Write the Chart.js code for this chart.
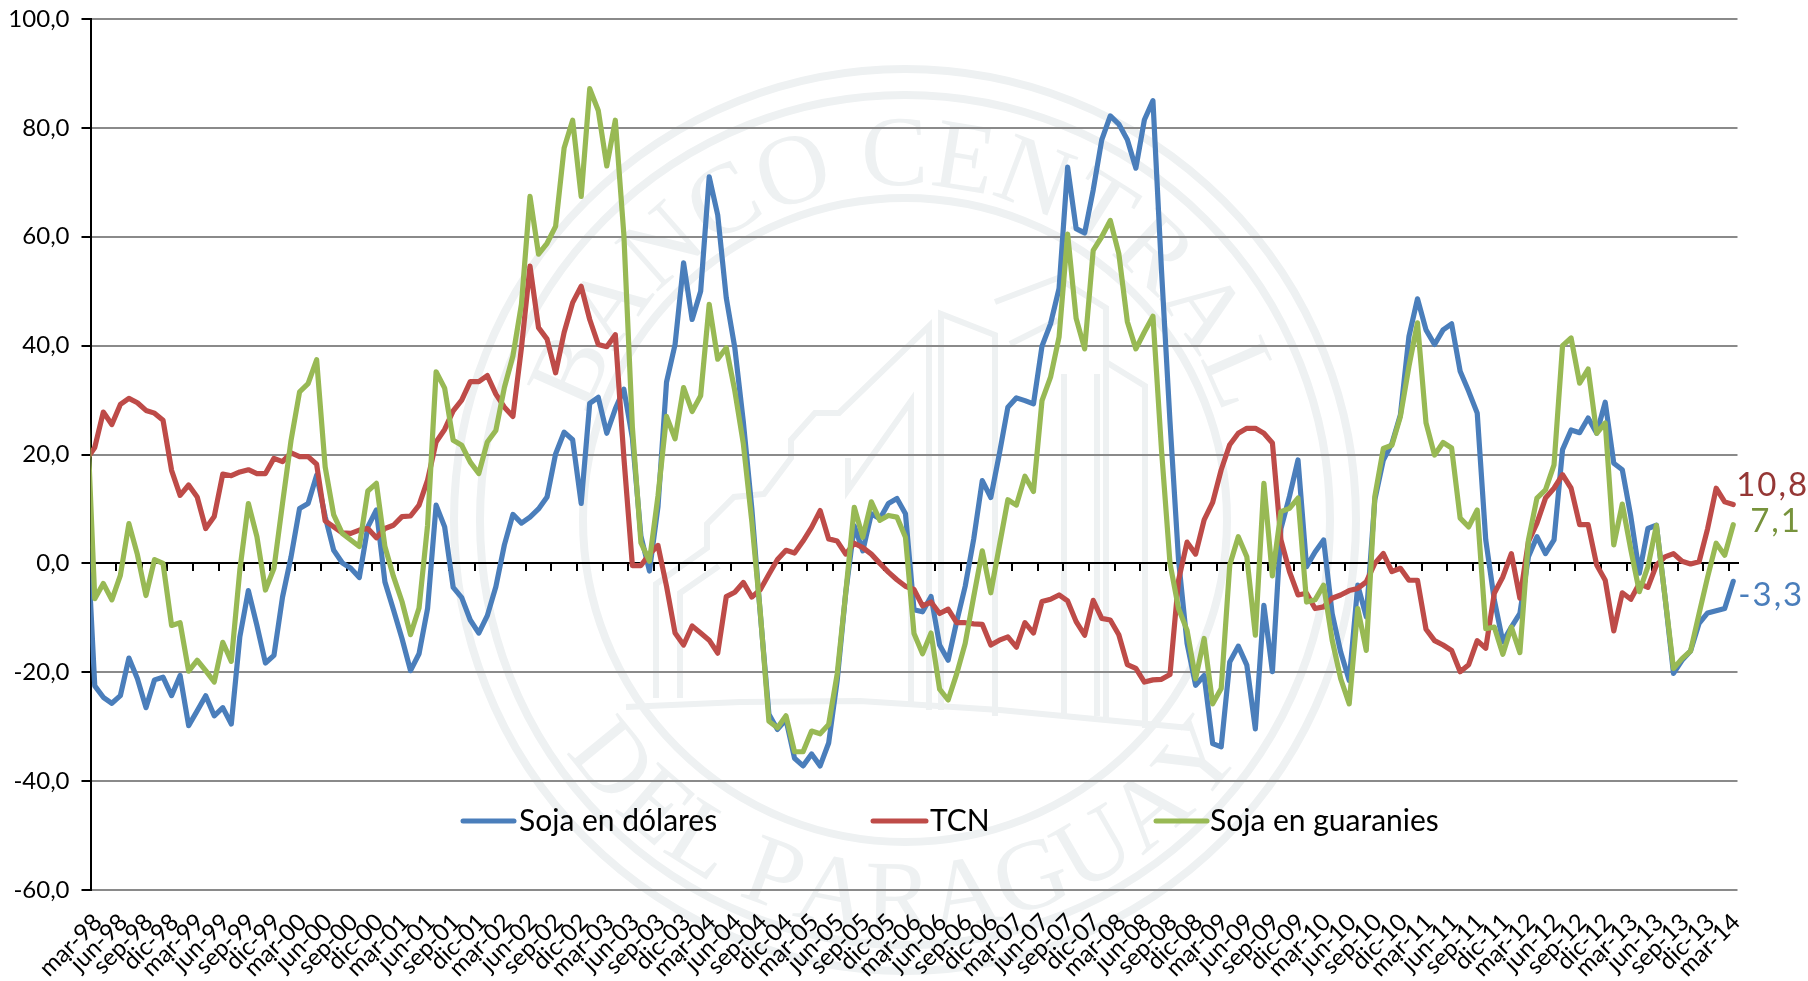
<!DOCTYPE html>
<html>
<head>
<meta charset="utf-8">
<title>Soja</title>
<script src="https://cdn.jsdelivr.net/npm/chart.js@4"></script>
<style>
  html, body { margin: 0; padding: 0; background: #fff; }
  canvas { display: block; }
</style>
</head>
<body>
<canvas id="chart" width="1808" height="981"></canvas>
<script>
// Series names and end labels
const seriesNames = ['Soja en dólares', 'TCN', 'Soja en guaranies'];
const endLabels = ['-3,3', '10,8', '7,1'];
const yTicks = [-60, -40, -20, 0, 20, 40, 60, 80, 100];
const monthNames = ['ene', 'feb', 'mar', 'abr', 'may', 'jun', 'jul', 'ago', 'sep', 'oct', 'nov', 'dic'];

// Monthly values, feb-98 to mar-14. The feb-98 point sits left of the axis and only its segment shows.
const sojaDolares = [8.6,
  -22.5,-24.6,-25.7,-24.3,-17.4,-21.2,-26.5,-21.4,-20.9,-24.3,
  -20.6,-29.8,-27.1,-24.3,-28,-26.5,-29.5,-13.5,-5,-11.4,
  -18.3,-16.9,-6.2,1.2,10.1,11,16.2,8.6,2.4,0.1,
  -0.9,-2.6,6.7,9.8,-3.4,-8.5,-13.8,-19.7,-16.6,-8.3,
  10.7,6.7,-4.4,-6.3,-10.4,-12.8,-9.6,-4.3,3.4,9,
  7.4,8.5,10,12.2,20.1,24.1,22.7,11,29.4,30.5,
  23.9,28.4,32,23,5,-1.4,10.4,33.3,40.2,55.2,
  44.8,50,71,64,48.8,39.6,26,10,-9.5,-27.7,
  -30.5,-28.7,-35.8,-37.2,-35,-37.2,-33,-21.5,-5.4,6.9,
  2.3,9.1,8.2,11,11.9,9.1,-8.5,-8.9,-6.1,-15,
  -17.8,-10.7,-4.2,4.5,15.2,12.1,20.1,28.7,30.4,29.9,
  29.3,39.9,44,50.5,72.8,61.5,60.7,68.6,77.8,82.2,
  80.7,77.8,72.6,81.5,85,53.9,26,0.6,-14.7,-22.4,
  -20.6,-33.1,-33.7,-18.1,-15.2,-18.7,-30.4,-7.7,-19.9,6.4,
  12.3,19,-0.6,2.1,4.3,-9.2,-16.3,-21.5,-4,-9.8,
  11.7,19,22,27.3,41.7,48.6,42.9,40.2,42.9,44,
  35.3,31.6,27.6,4.3,-6.7,-14.4,-11.7,-9.2,1.2,4.9,
  1.8,4.3,20.9,24.5,24,26.7,23.9,29.6,18.4,17.2,
  8.6,-1.8,6.4,7,-6.1,-20.2,-17.8,-16.1,-11,-9.1,
  -8.7,-8.3,-3.3
];
const tcn = [19,
  21.3,27.8,25.5,29.2,30.3,29.5,28.1,27.6,26.3,17.1,
  12.5,14.4,12.2,6.4,8.6,16.4,16.1,16.8,17.2,16.5,
  16.5,19.3,18.7,20.3,19.6,19.6,18.2,7.8,6.7,5.6,
  5.5,6.1,6.4,4.7,6.4,7,8.6,8.7,10.7,15.3,
  22.3,24.6,28,30,33.4,33.4,34.5,31.1,28.7,27,
  39.6,54.6,43.3,41.2,35,42.4,47.9,50.9,44.8,40.2,
  39.8,42,19.5,-0.4,-0.4,1.7,3.3,-4.2,-12.8,-15,
  -11.5,-12.8,-14.1,-16.5,-6.1,-5.3,-3.5,-6.2,-4.8,-2,
  0.7,2.4,1.9,4.1,6.6,9.7,4.5,4.1,1.7,3.7,
  2.9,1.7,0,-1.6,-3,-4.2,-4.8,-7.8,-7.1,-9.2,
  -8.4,-10.9,-10.9,-11.1,-11.2,-15,-14.1,-13.5,-15.4,-10.9,
  -12.8,-7,-6.6,-5.8,-6.9,-10.7,-13.2,-6.8,-10.1,-10.4,
  -13.1,-18.6,-19.3,-21.8,-21.4,-21.3,-20.4,-3.1,3.9,1.7,
  8,11.2,17.2,21.8,23.9,24.8,24.8,23.9,22.1,4.3,
  -1.5,-5.8,-5.5,-8.3,-8,-6.4,-5.8,-5,-4.6,-3.4,
  0,1.8,-1.5,-0.9,-3.1,-3.1,-12.1,-14.2,-15,-16,
  -19.9,-18.6,-14.2,-15.6,-5.5,-2.5,1.8,-6.4,4,7.4,
  12,13.8,16.3,13.8,7.1,7.1,-0.3,-3.1,-12.4,-5.4,
  -6.6,-3.7,-4.4,-0.3,1.2,1.8,0.4,-0.1,0.3,6.4,
  13.8,11.3,10.8
];
const sojaGuaranies = [31,
  -6.5,-3.7,-6.7,-2.2,7.3,1.6,-5.9,0.7,0,-11.4,
  -10.9,-19.8,-17.8,-19.7,-21.8,-14.5,-18,-1.2,11,4.9,
  -4.9,-0.9,11,22.6,31.5,33,37.4,17.7,8.9,5.5,
  4.3,3.1,13.3,14.7,3.1,-2.4,-7,-13.1,-8.2,7,
  35.2,32.2,22.6,21.7,18.6,16.5,22.3,24.4,32.3,38.1,
  47.6,67.4,56.8,58.8,61.9,76.3,81.4,67.4,87.2,83.2,
  73,81.4,60.4,25,3.8,0.4,12.4,27,22.9,32.3,
  27.9,30.8,47.6,37.5,39.6,31.7,22,7.6,-9.2,-29,
  -30.2,-28,-34.6,-34.6,-30.8,-31.3,-29.6,-20.3,-5.4,10.3,
  4.8,11.3,7.9,8.8,8.5,4.8,-12.9,-16.6,-12.8,-23.1,
  -25.1,-20.3,-14.7,-6.1,2.3,-5.4,3.2,11.7,10.7,16,
  13.2,29.9,34.2,41.6,60.5,45,39.4,57.5,60,63,
  56.9,44.4,39.4,42.5,45.4,20.9,0,-8.3,-12.3,-21.2,
  -13.8,-25.8,-23,-0.3,4.9,1.2,-13.2,14.7,-2.3,9.5,
  10.1,12,-7.1,-6.7,-4,-14.1,-21.2,-25.8,-8.3,-16,
  12.3,21.1,21.7,27,36.2,44.2,25.8,19.9,22.2,21.2,
  8.3,6.7,9.8,-12,-11.7,-16.7,-11.7,-16.4,4.3,12,
  13.5,18.1,40,41.4,33.1,35.7,23.9,25.8,3.4,10.9,
  2.5,-5.2,-0.6,7,-6.1,-19.3,-17.5,-16.1,-9.2,-2.5,
  3.7,1.5,7.1
];

// Build the month labels
const labels = [];
for (let i = 0; i < sojaDolares.length; i++) {
  const m = (1 + i) % 12;
  const y = (98 + Math.floor((1 + i) / 12)) % 100;
  labels.push(monthNames[m] + '-' + String(y).padStart(2, '0'));
}

const FONT = 'Lato, sans-serif';
const lineColors = ['#4A7EBB', '#BE4B48', '#98B954'];
const labelColors = ['#4A7EBB', '#953735', '#77933C'];

// Seal in the background
const seal = {
  id: 'seal',
  beforeDraw(chart) {
    const ctx = chart.ctx;
    const cx = 905, cy = 520;
    ctx.save();
    ctx.strokeStyle = '#EEF1F2';
    ctx.fillStyle = '#EEF1F2';
    ctx.lineWidth = 8;
    [451, 425, 322].forEach(r => {
      ctx.beginPath();
      ctx.arc(cx, cy, r, 0, Math.PI * 2);
      ctx.stroke();
    });

    // Letters along a circle, each one takes an arc in proportion to its width
    const arcText = (text, r, mid, spread, inward) => {
      ctx.font = '100px "Liberation Serif", serif';
      ctx.textAlign = 'center';
      ctx.textBaseline = 'alphabetic';
      const widths = Array.from(text).map(ch => ctx.measureText(ch).width);
      const total = widths.reduce((a, b) => a + b, 0);
      let used = 0;
      widths.forEach((w, i) => {
        const part = (used + w / 2) / total - 0.5;
        const a = mid + spread * part * (inward ? -1 : 1);
        used += w;
        ctx.save();
        ctx.translate(cx + Math.sin(a) * r, cy - Math.cos(a) * r);
        ctx.rotate(inward ? a + Math.PI : a);
        ctx.fillText(text[i], 0, 0);
        ctx.restore();
      });
    };
    arcText('BANCO CENTRAL', 335, 0, 2.5, false);
    arcText('DEL PARAGUAY', 410, Math.PI, 1.95, true);

    // Rough outline of the building
    ctx.lineWidth = 6;
    const shapes = [
      [[656, 698], [656, 584], [707, 548], [707, 524], [734, 497], [764, 494], [791, 458], [791, 440], [815, 413], [839, 413], [929, 326], [929, 710]],
      [[680, 698], [680, 593], [719, 566]],
      [[848, 458], [848, 490], [911, 401], [911, 704]],
      [[941, 710], [941, 314], [995, 335], [995, 716]],
      [[995, 302], [1058, 278], [1106, 308], [1106, 722]],
      [[1010, 344], [1058, 320]],
      [[1064, 374], [1064, 716]],
      [[1097, 374], [1097, 716]],
      [[1106, 362], [1145, 386], [1145, 728]],
      [[626, 707], [740, 702], [860, 701], [1000, 710], [1190, 728]]
    ];
    shapes.forEach(points => {
      ctx.beginPath();
      points.forEach((p, i) => i ? ctx.lineTo(p[0], p[1]) : ctx.moveTo(p[0], p[1]));
      ctx.stroke();
    });
    ctx.restore();
  }
};

// Legend inside the plot and the last value of each line
const notes = {
  id: 'notes',
  afterDraw(chart) {
    const ctx = chart.ctx;
    const xScale = chart.scales.x;
    const yScale = chart.scales.y;
    ctx.save();

    const legendKeys = [[463, 514, 519], [873, 926, 930], [1156, 1207, 1210]];
    ctx.font = '30px ' + FONT;
    ctx.textAlign = 'left';
    ctx.textBaseline = 'middle';
    ctx.lineCap = 'round';
    ctx.lineWidth = 5;
    seriesNames.forEach((name, i) => {
      ctx.strokeStyle = lineColors[i];
      ctx.beginPath();
      ctx.moveTo(legendKeys[i][0], 821);
      ctx.lineTo(legendKeys[i][1], 821);
      ctx.stroke();
      ctx.fillStyle = '#000';
      ctx.fillText(name, legendKeys[i][2], 821);
    });

    const lastIndex = labels.length - 1;
    const series = [sojaDolares, tcn, sojaGuaranies];
    const labelShift = [[5, 14], [3, -19], [17, -3]];
    ctx.font = '33px ' + FONT;
    ctx.letterSpacing = '2px';
    endLabels.forEach((text, i) => {
      ctx.fillStyle = labelColors[i];
      ctx.fillText(text, xScale.getPixelForValue(lastIndex) + labelShift[i][0],
        yScale.getPixelForValue(series[i][lastIndex]) + labelShift[i][1]);
    });
    ctx.restore();
  }
};

new Chart(document.getElementById('chart'), {
  type: 'line',
  data: {
    labels: labels,
    datasets: [
      { label: seriesNames[0], data: sojaDolares, borderColor: lineColors[0], order: 3 },
      { label: seriesNames[1], data: tcn, borderColor: lineColors[1], order: 2 },
      { label: seriesNames[2], data: sojaGuaranies, borderColor: lineColors[2], order: 1 }
    ]
  },
  options: {
    responsive: false,
    animation: false,
    layout: { padding: { top: 19, right: 70.5, left: 0, bottom: 0 } },
    elements: {
      point: { radius: 0 },
      line: { borderWidth: 5.2, tension: 0, borderJoinStyle: 'round', borderCapStyle: 'round' }
    },
    plugins: { legend: { display: false }, tooltip: { enabled: false } },
    scales: {
      x: {
        type: 'category',
        min: 'mar-98',
        offset: true,
        border: { display: false },
        grid: { display: false },
        afterBuildTicks: scale => {
          // one label every three months
          scale.ticks = scale.ticks.filter(t => (t.value - 1) % 3 === 0);
        },
        afterFit: scale => { scale.height = 91; },
        ticks: {
          autoSkip: false,
          maxRotation: 45,
          minRotation: 45,
          padding: 10,
          labelOffset: 3,
          color: '#000',
          font: { family: FONT, size: 24 }
        }
      },
      // black axis on the zero line, only tick marks
      zero: {
        type: 'linear',
        axis: 'x',
        position: { y: 0 },
        min: -0.5,
        max: 192.5,
        border: { display: true, color: '#000', width: 2 },
        grid: { drawOnChartArea: false, color: '#000', lineWidth: 2, tickLength: 7 },
        ticks: { display: false },
        afterBuildTicks: scale => {
          const marks = [];
          for (let i = 0; i <= 64; i++) marks.push({ value: i * 3 - 0.5 });
          scale.ticks = marks;
        },
        afterFit: scale => { scale.height = 0; }
      },
      y: {
        min: yTicks[0],
        max: yTicks[yTicks.length - 1],
        afterBuildTicks: scale => { scale.ticks = yTicks.map(v => ({ value: v })); },
        afterFit: scale => {
          // tick padding would otherwise push the plot top down
          scale.width = 90.5;
          scale.paddingTop = 0;
          scale.paddingBottom = 0;
        },
        border: { display: true, color: '#000', width: 2 },
        grid: { color: '#8A8A8A', lineWidth: 2, tickColor: '#000', tickLength: 9 },
        ticks: {
          padding: 12,
          color: '#000',
          font: { family: FONT, size: 24 },
          callback: v => v.toFixed(1).replace('.', ',')
        }
      }
    }
  },
  plugins: [seal, notes]
});
</script>
</body>
</html>
